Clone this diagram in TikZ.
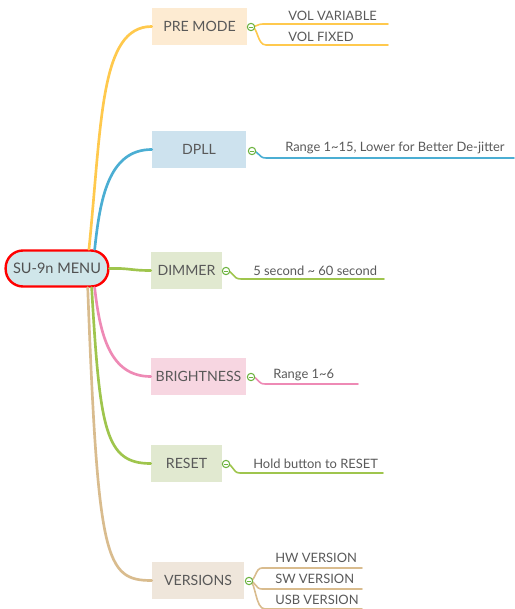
\documentclass[tikz,border=0pt]{standalone}
\usepackage{fontspec}
\setmainfont{Lato}
\usepackage{xcolor}
\usepackage{tikz}
\usetikzlibrary{calc}
\usetikzlibrary{shapes}
\usetikzlibrary{positioning}
\definecolor{txtgray}{HTML}{595959}
\definecolor{yel}{HTML}{FFC94D}
\definecolor{blu}{HTML}{4BAED3}
\definecolor{grn}{HTML}{9FC54D}
\definecolor{pnk}{HTML}{EE8AB5}
\definecolor{tan}{HTML}{D9BC8E}
\definecolor{premodefill}{HTML}{FDEBD2}
\definecolor{dpllfill}{HTML}{CDE2EE}
\definecolor{greenfill}{HTML}{E1E9D0}
\definecolor{brightfill}{HTML}{F7D6E1}
\definecolor{versfill}{HTML}{EFE6DB}
\definecolor{rootfill}{HTML}{D0E6EA}
\definecolor{icogreen}{HTML}{6DB33F}
\tikzstyle{topic} = [rectangle, minimum height=27.75pt, inner sep=0pt, text=txtgray, font=\fontsize{10.6}{13}\selectfont]
\tikzstyle{leaf} = [anchor=west, inner sep=0pt, text=txtgray, font=\fontsize{9.7}{11}\selectfont]
\tikzstyle{branch} = [line width=2pt, line cap=round]
\tikzstyle{twig} = [line width=1.2pt, line cap=round]
\tikzstyle{ico} = [circle, draw=icogreen, fill=white, line width=0.8pt, inner sep=0pt, minimum size=5.5pt,
  path picture={\draw[icogreen, line width=0.7pt] ($(path picture bounding box.center)+(-1.4pt,0)$) -- ++(2.8pt,0);}]

\begin{document}
\begin{tikzpicture}[x=0.75pt, y=-0.75pt]
\useasboundingbox (0,0) rectangle (514,609);

\node [rectangle, rounded corners=13pt, draw=red, line width=1.8pt, fill=rootfill, minimum width=77pt, minimum height=27pt, inner sep=0pt, text=txtgray!90!black, font=\fontsize{10.9}{13}\selectfont] (root) at (57,268.5) {SU-9n MENU};

\node [topic, fill=premodefill, minimum width=71.25pt] (pre) at (199.5,26.5) {PRE MODE};
\node [topic, fill=dpllfill, minimum width=70.5pt] (dpll) at (199,149.5) {DPLL};
\node [topic, fill=greenfill, minimum width=53.25pt] (dim) at (186.5,270.5) {DIMMER};
\node [topic, fill=brightfill, minimum width=71.25pt] (bri) at (198.5,376.5) {BRIGHTNESS};
\node [topic, fill=greenfill, minimum width=53.25pt] (rst) at (186.5,463.5) {RESET};
\node [topic, fill=versfill, minimum width=69pt] (ver) at (198,580.5) {VERSIONS};

\draw [branch, draw=yel] (root.31) .. controls (102,120) and (100,26.5) .. (pre.west);
\draw [branch, draw=blu] (root.27) .. controls (100,200) and (108,149.5) .. (dpll.west);
\draw [branch, draw=grn] (root.east) .. controls (130,268) and (130,270.5) .. (dim.west);
\draw [branch, draw=pnk] (root.-27) .. controls (100,335) and (110,376.5) .. (bri.west);
\draw [branch, draw=grn] (root.-29) .. controls (100,430) and (105,463.5) .. (rst.west);
\draw [branch, draw=tan] (root.-32) .. controls (98,560) and (105,580.5) .. (ver.west);

\node [leaf] (vv) at (288,16) {VOL VARIABLE};
\node [leaf] (vf) at (288,37) {VOL FIXED};
\node [leaf] (rng) at (285,148) {Range 1\textasciitilde15, Lower for Better De-jitter};
\node [leaf] (sec) at (253,270.5) {5 second \textasciitilde\ 60 second};
\node [leaf] (r6) at (273,375.5) {Range 1\textasciitilde6};
\node [leaf] (hold) at (253,464) {Hold button to RESET};
\node [leaf] (hw) at (275,558) {HW VERSION};
\node [leaf] (sw) at (275,579) {SW VERSION};
\node [leaf] (usb) at (275,599.5) {USB VERSION};

\coordinate (vv-s) at (263,24);
\coordinate (vv-e) at (388,24);
\coordinate (vf-s) at (266,45);
\coordinate (vf-e) at (388,45);
\coordinate (rng-s) at (266,158);
\coordinate (rng-e) at (514,158);
\coordinate (sec-s) at (241,279);
\coordinate (sec-e) at (384,279);
\coordinate (r6-s) at (265,384);
\coordinate (r6-e) at (358,384);
\coordinate (hold-s) at (240,473);
\coordinate (hold-e) at (383,473);
\coordinate (hw-s) at (262,568);
\coordinate (hw-e) at (362,568);
\coordinate (sw-s) at (262,589);
\coordinate (sw-e) at (362,589);
\coordinate (usb-s) at (265,609);
\coordinate (usb-e) at (362,609);

\draw [twig, draw=yel] (pre.east) ++(4,0) .. controls (258,26.5) and (257,24) .. (vv-s) -- (vv-e);
\draw [twig, draw=yel] (pre.east) ++(4,0) .. controls (258,26.5) and (257,45) .. (vf-s) -- (vf-e);
\draw [twig, draw=blu] (dpll.east) ++(5,1.5) .. controls (260,151) and (258,158) .. (rng-s) -- (rng-e);
\draw [twig, draw=grn] (dim.east) ++(4,0.5) .. controls (234,271) and (232,279) .. (sec-s) -- (sec-e);
\draw [twig, draw=pnk] (bri.east) ++(5,0.5) .. controls (259,377) and (257,384) .. (r6-s) -- (r6-e);
\draw [twig, draw=grn] (rst.east) ++(4,0.5) .. controls (234,464) and (232,473) .. (hold-s) -- (hold-e);
\draw [twig, draw=tan] (ver.east) ++(5,0.5) .. controls (256,581) and (255,568) .. (hw-s) -- (hw-e);
\draw [twig, draw=tan] (ver.east) ++(5,0.5) .. controls (256,581) and (255,589) .. (sw-s) -- (sw-e);
\draw [twig, draw=tan] (ver.east) ++(5,0.5) .. controls (256,581) and (255,609) .. (usb-s) -- (usb-e);

\node [ico] (pre-i) at (251,27) {};
\node [ico] (dpll-i) at (252,151) {};
\node [ico] (dim-i) at (226,271) {};
\node [ico] (bri-i) at (251,377) {};
\node [ico] (rst-i) at (226,464) {};
\node [ico] (ver-i) at (249,581) {};
\end{tikzpicture}
\end{document}
